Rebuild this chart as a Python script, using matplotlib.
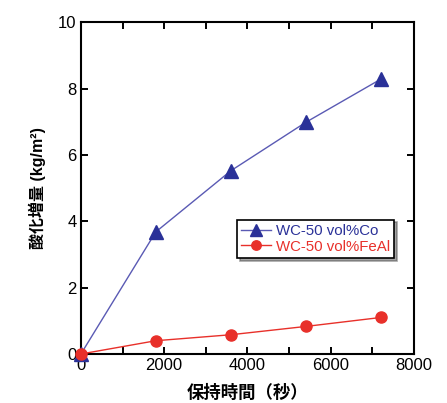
import matplotlib
matplotlib.use("Agg")
import matplotlib.pyplot as plt
from matplotlib.ticker import MultipleLocator

plt.rcParams["font.family"] = ["Liberation Sans", "Noto Sans CJK JP", "DejaVu Sans"]

hold_time = [0, 1800, 3600, 5400, 7200]
gain_co = [0, 3.68, 5.52, 6.98, 8.28]
gain_feal = [0, 0.40, 0.58, 0.83, 1.10]
label_co = "WC-50 vol%Co"
label_feal = "WC-50 vol%FeAl"

blue = "#2a3198"
red = "#e8302a"

fig = plt.figure(figsize=(4.47, 4.03), dpi=100)
ax = fig.add_axes([0.181, 0.1216, 0.745, 0.8234])

ax.plot(hold_time, gain_co, color="#5a5ab4", lw=1.0, marker="^", ms=9.5,
        mfc=blue, mec=blue, label=label_co, clip_on=False, zorder=3)
ax.plot(hold_time, gain_feal, color=red, lw=1.0, marker="o", ms=8,
        mfc=red, mec=red, label=label_feal, clip_on=False, zorder=4)

ax.set_xlim(0, 8000)
ax.set_ylim(0, 10)
ax.xaxis.set_major_locator(MultipleLocator(2000))
ax.xaxis.set_minor_locator(MultipleLocator(1000))
ax.yaxis.set_major_locator(MultipleLocator(2))
ax.tick_params(which="both", direction="in", top=True, right=True,
               length=5, width=1.4, labelsize=12, pad=3)
for s in ax.spines.values():
    s.set_linewidth(1.5)

ax.set_ylabel("酸化増量 (kg/m²)", fontsize=11.5, fontweight="bold",
              family=["Liberation Sans", "Noto Sans CJK JP", "DejaVu Sans"],
              labelpad=9)
ax.set_xlabel("保持時間（秒）", fontsize=12.5, fontweight="bold",
              family=["Noto Sans CJK JP", "DejaVu Sans"], labelpad=8)

leg = ax.legend(loc="lower left", bbox_to_anchor=(0.468, 0.289), fontsize=10.8,
                frameon=True, fancybox=False, shadow=True, edgecolor="black",
                handlelength=2.0, handletextpad=0.3, borderpad=0.3,
                labelspacing=0.1, borderaxespad=0, markerscale=0.85)
leg.get_frame().set_linewidth(1.2)
for t, c in zip(leg.get_texts(), [blue, red]):
    t.set_color(c)

fig.savefig("out.png", dpi=100)
